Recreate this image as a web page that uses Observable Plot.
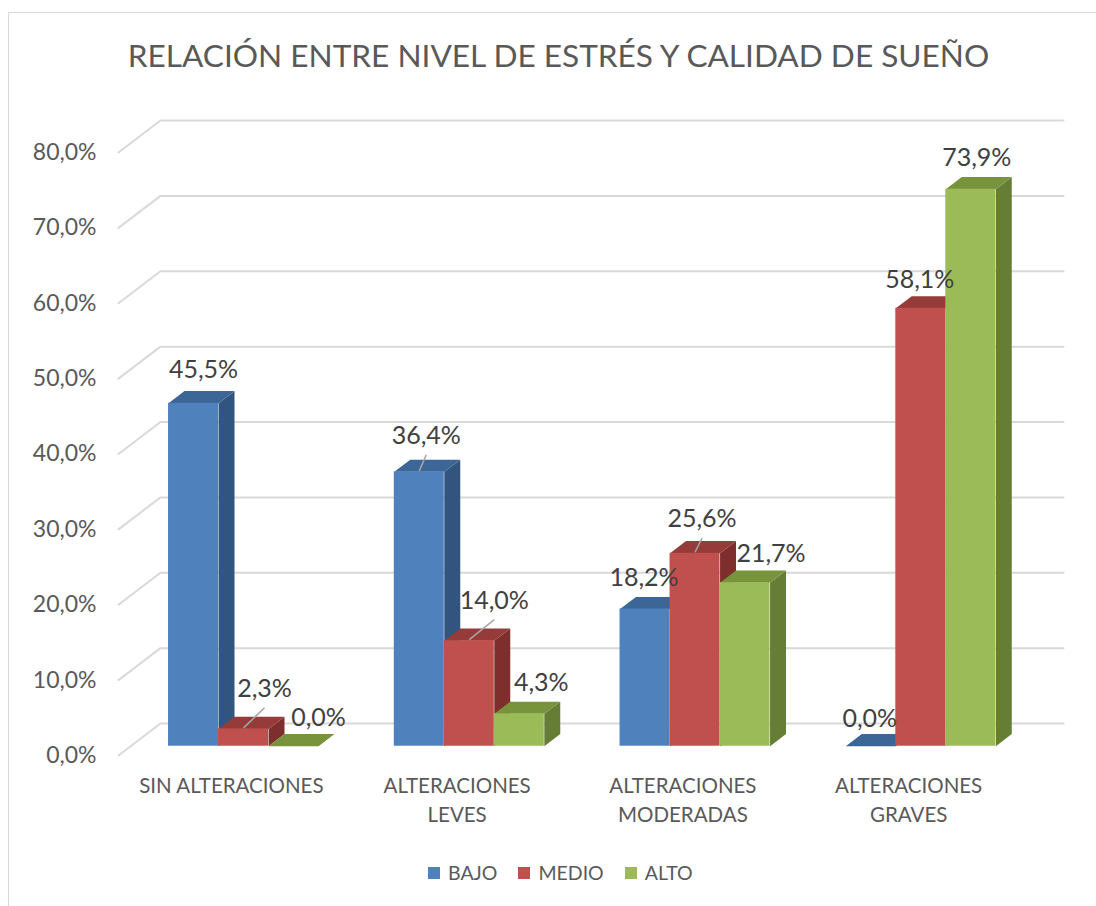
<!DOCTYPE html>
<html><head><meta charset="utf-8">
<script src="https://cdn.jsdelivr.net/npm/d3@7"></script>
<script src="https://cdn.jsdelivr.net/npm/@observablehq/plot@0.6"></script>
<style>
body{margin:0;background:#fff;}
#wrap{position:relative;width:1096px;height:906px;overflow:hidden;font-family:Lato,sans-serif;background:#fff;}
#frame{position:absolute;left:8px;top:12px;width:1200px;height:1000px;border:1.5px solid #d9d9d9;}
#title{position:absolute;left:0;width:1117px;top:35px;text-align:center;font-size:31.6px;color:#595959;line-height:40px;white-space:nowrap;}
#chart{position:absolute;left:0;top:95px;}
#legend{position:absolute;left:428px;top:860px;display:flex;align-items:center;font-size:19.5px;color:#595959;line-height:26px;}
#legend .item{display:flex;align-items:center;margin-right:21px;}
#legend .sw{width:12px;height:12px;margin-right:8px;}
</style></head><body>
<div id="wrap">
<div id="frame"></div>
<div id="title">RELACIÓN ENTRE NIVEL DE ESTRÉS Y CALIDAD DE SUEÑO</div>
<div id="chart"></div>
<div id="legend"></div>
</div>
<script>
// ---- data ----
const categories = ["SIN ALTERACIONES", "ALTERACIONES LEVES", "ALTERACIONES MODERADAS", "ALTERACIONES GRAVES"];
const seriesNames = ["BAJO", "MEDIO", "ALTO"];
const bajo = [45.5, 36.4, 18.2, 0.0];
const medio = [2.3, 14.0, 25.6, 58.1];
const alto = [0.0, 4.3, 21.7, 73.9];
const yTicks = [0, 10, 20, 30, 40, 50, 60, 70, 80];
const frontColors = ["#4F81BD", "#C0504D", "#9BBB59"];
const topColors = ["#3C6696", "#953B39", "#77933C"];
const sideColors = ["#32557F", "#7E2F2D", "#657D35"];
const leaderLabels = [[0, 1], [1, 0], [1, 1], [2, 1]]; // [category, series] with leader line

// ---- layout ----
const W = 1096, H = 745, ML = 118, MR = 75, MT = 57, MB = 85;
const kx = (W - ML - MR) / 4;   // px per category unit
const ky = (H - MT - MB) / 80;  // px per percent
// label offsets in px (manual placement as in the original), key "category,series"
const labelShift = {
  "0,0": [4, -2], "0,1": [15, -9], "0,2": [19, 3],
  "1,0": [1, -5], "1,1": [19, -9], "1,2": [16, 0],
  "2,0": [-7, 0], "2,1": [1, -3], "2,2": [20, 2],
  "3,0": [-7, 4], "3,1": [-7, 3], "3,2": [0, 0]
};

// ---- 3D geometry (in scale units) ----
const DX = 0.186, DY = 4.245;   // full floor depth vector
const F1 = 0.29, F2 = 0.67;     // bar front / back depth fraction
const BW = 0.2215;              // bar width (category units)
const proj = (x, y, f) => ({x: x + f * DX, y: y + f * DY});
const fmt = v => v.toFixed(1).replace(".", ",") + "%";

const values = [bajo, medio, alto];
const bars = [];
values.forEach((arr, s) => arr.forEach((v, i) => {
  const xl = i + 0.5 - 1.5 * BW + s * BW, xr = xl + BW;
  bars.push({s, i, v, xl, xr});
}));

const gridPts = yTicks.flatMap(t => [
  {t, ...proj(0, t, 0)}, {t, ...proj(0, t, 1)}, {t, ...proj(4, t, 1)}
]);

function sidePolys(s) {
  return bars.filter(b => b.s === s && b.v > 0).flatMap(b => [
    proj(b.xr, 0, F1), proj(b.xr, b.v, F1), proj(b.xr, b.v, F2), proj(b.xr, 0, F2)
  ].map(p => ({...p, id: b.i})));
}
function topPolys(s) {
  return bars.filter(b => b.s === s).flatMap(b => [
    proj(b.xl, b.v, F1), proj(b.xr, b.v, F1), proj(b.xr, b.v, F2), proj(b.xl, b.v, F2)
  ].map(p => ({...p, id: b.i})));
}
function fronts(s) {
  return bars.filter(b => b.s === s && b.v > 0).map(b => ({
    x1: b.xl + F1 * DX, x2: b.xr + F1 * DX, y1: F1 * DY, y2: b.v + F1 * DY
  }));
}
const fm = (F1 + F2) / 2;
const labels = bars.map(b => {
  const c = proj((b.xl + b.xr) / 2, b.v, fm);
  const [sx, sy] = labelShift[b.i + "," + b.s];
  return {i: b.i, s: b.s, x: c.x + (sx - 2) / kx, y: c.y - (sy - 25) / ky, text: fmt(b.v)};
});
const leaders = bars.filter(b => leaderLabels.some(([c, s]) => c === b.i && s === b.s)).map(b => {
  const a = proj((b.xl + b.xr) / 2, b.v, F1);
  const l = labels.find(d => d.i === b.i && d.s === b.s);
  return {x1: a.x, y1: a.y + 1 / ky, x2: l.x, y2: l.y - 19 / ky};
});
const catLabels = categories.map((c, i) => ({x: i + 0.5, y: 0, text: c.replace(/^ALTERACIONES /, "ALTERACIONES\n")}));

const marks = [
  Plot.line(gridPts, {x: "x", y: "y", z: "t", stroke: "#d9d9d9", strokeWidth: 2}),
  Plot.text(yTicks, {x: 0, y: d => d, text: d => fmt(d), textAnchor: "end", dx: -22, fontSize: 23, fill: "#595959"})
];
seriesNames.forEach((name, s) => {
  marks.push(Plot.line(sidePolys(s), {x: "x", y: "y", z: "id", fill: sideColors[s], stroke: "none"}));
  marks.push(Plot.line(topPolys(s), {x: "x", y: "y", z: "id", fill: topColors[s], stroke: "none"}));
  marks.push(Plot.rect(fronts(s), {x1: "x1", x2: "x2", y1: "y1", y2: "y2", fill: frontColors[s]}));
});
marks.push(Plot.link(leaders, {x1: "x1", y1: "y1", x2: "x2", y2: "y2", stroke: "#a6a6a6", strokeWidth: 1.5}));
marks.push(Plot.text(labels, {x: "x", y: "y", text: "text", fontSize: 25, fill: "#404040"}));
marks.push(Plot.text(catLabels, {x: "x", y: "y", text: "text", lineAnchor: "top", dy: 17, lineHeight: 1.4, fontSize: 20.5, fill: "#595959"}));

const chart = Plot.plot({
  width: W, height: H,
  marginLeft: ML, marginRight: MR, marginTop: MT, marginBottom: MB,
  x: {type: "linear", domain: [0, 4], axis: null},
  y: {type: "linear", domain: [0, 80], axis: null},
  style: {fontFamily: "Lato, sans-serif", background: "transparent", overflow: "visible"},
  marks
});
document.getElementById("chart").appendChild(chart);

const legend = document.getElementById("legend");
seriesNames.forEach((n, s) => {
  const it = document.createElement("div"); it.className = "item";
  const sw = document.createElement("div"); sw.className = "sw"; sw.style.background = frontColors[s];
  const tx = document.createElement("span"); tx.textContent = n;
  it.appendChild(sw); it.appendChild(tx); legend.appendChild(it);
});
</script>
</body></html>
